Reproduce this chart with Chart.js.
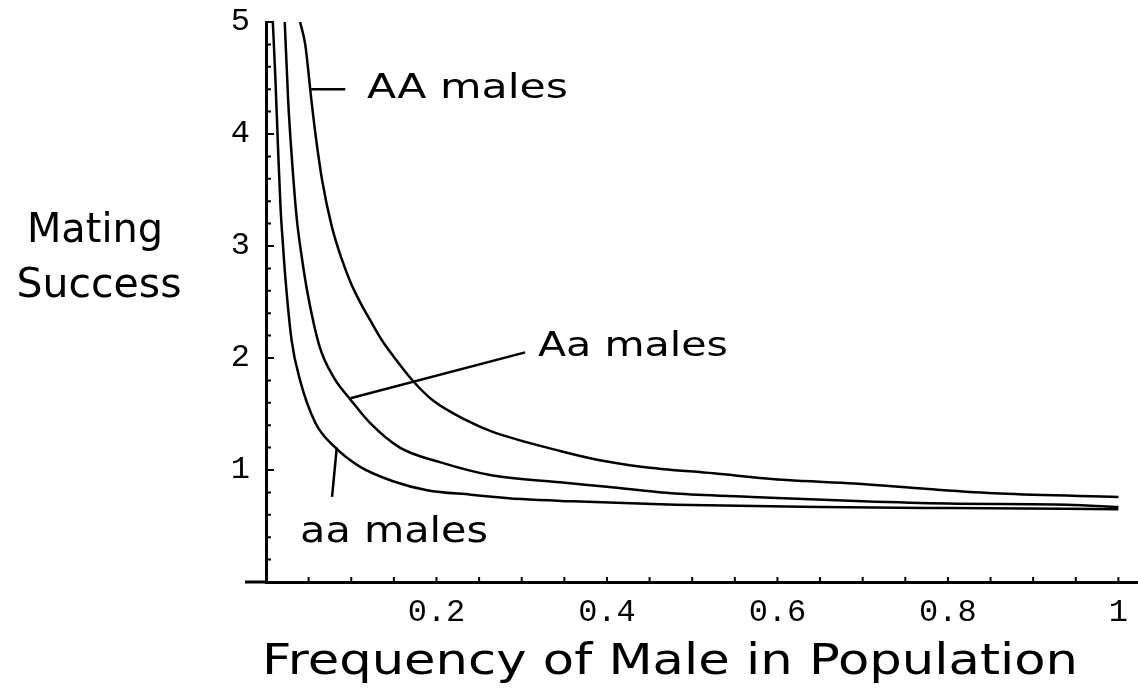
<!DOCTYPE html>
<html lang="en">
<head>
<meta charset="UTF-8" />
<title>Mating Success vs Frequency of Male in Population</title>
<script src="https://cdn.jsdelivr.net/npm/chart.js"></script>
<style>
  html, body { margin: 0; padding: 0; background: #fff; }
  #wrap { width: 1138px; height: 695px; position: relative; }
</style>
</head>
<body>
<div id="wrap"><canvas id="chart"></canvas></div>
<script>
  // curves: [frequency of male, mating success]
  const aaMales = [
    [0.008, 5.0], [0.011, 4.5], [0.014, 3.9], [0.017, 3.35], [0.020, 3.0],
    [0.023, 2.69], [0.030, 2.16], [0.040, 1.80], [0.058, 1.42], [0.080, 1.21],
    [0.110, 1.03], [0.149, 0.90], [0.189, 0.82], [0.240, 0.78], [0.300, 0.74],
    [0.360, 0.72], [0.480, 0.69], [0.650, 0.67], [0.800, 0.66], [1.000, 0.65]
  ];
  const AaMales = [
    [0.022, 5.0], [0.026, 4.3], [0.030, 3.82], [0.036, 3.25], [0.042, 2.90],
    [0.049, 2.57], [0.063, 2.10], [0.080, 1.82], [0.099, 1.63], [0.122, 1.42],
    [0.157, 1.20], [0.204, 1.07], [0.266, 0.95], [0.345, 0.89], [0.400, 0.85],
    [0.480, 0.79], [0.570, 0.76], [0.700, 0.72], [0.800, 0.70], [0.940, 0.69],
    [1.000, 0.67]
  ];
  const AAMales = [
    [0.040, 5.0], [0.046, 4.80], [0.053, 4.32], [0.058, 4.00], [0.066, 3.58],
    [0.077, 3.18], [0.089, 2.88], [0.100, 2.66], [0.111, 2.49], [0.122, 2.34],
    [0.135, 2.17], [0.149, 2.02], [0.173, 1.79], [0.196, 1.62], [0.236, 1.44],
    [0.266, 1.34], [0.345, 1.17], [0.390, 1.09], [0.440, 1.03], [0.525, 0.97],
    [0.611, 0.91], [0.690, 0.88], [0.777, 0.83], [0.861, 0.79], [1.000, 0.76]
  ];

  // leader lines from the labels to the curves
  const AALeader = [[0.053, 4.40], [0.093, 4.40]];
  const AaLeader = [[0.099, 1.64], [0.304, 2.05]];
  const aaLeader = [[0.083, 1.20], [0.0775, 0.76]];

  const xTickLabels = [0.2, 0.4, 0.6, 0.8, 1];
  const yTickLabels = [1, 2, 3, 4, 5];

  const toXY = arr => arr.map(p => ({ x: p[0], y: p[1] }));
  const near = (a, b) => Math.abs(a - b) < 1e-6;

  // curve labels, anchored in data space (left edge, baseline)
  const notes = [
    { text: 'AA males', at: [0.1185, 4.32], size: 33, width: 201 },
    { text: 'Aa males', at: [0.319, 2.02], size: 34, width: 190 },
    { text: 'aa males', at: [0.040, 0.356], size: 36, width: 188 }
  ];

  function stretchText(ctx, text, x, y, width, center) {
    const w = ctx.measureText(text).width;
    ctx.save();
    ctx.translate(x, y);
    ctx.scale(width / w, 1);
    ctx.textAlign = 'left';
    ctx.textBaseline = 'alphabetic';
    ctx.fillText(text, center ? -w / 2 : 0, 0);
    ctx.restore();
  }

  const overlay = {
    id: 'overlay',
    afterDraw(chart) {
      const { ctx, chartArea, scales: { x, y } } = chart;
      ctx.save();
      ctx.strokeStyle = '#000';
      ctx.fillStyle = '#000';

      // x axis runs a little past the origin on the left
      ctx.lineWidth = 3;
      ctx.beginPath();
      ctx.moveTo(chartArea.left - 21, chartArea.bottom);
      ctx.lineTo(chartArea.left, chartArea.bottom);
      ctx.stroke();

      // inward tick marks
      ctx.lineWidth = 2;
      ctx.beginPath();
      y.ticks.forEach(t => {
        if (t.value <= 0) return;
        const py = y.getPixelForValue(t.value);
        const len = near(t.value, Math.round(t.value)) ? 8 : 5;
        ctx.moveTo(chartArea.left, py);
        ctx.lineTo(chartArea.left + len, py);
      });
      x.ticks.forEach(t => {
        if (t.value <= 0) return;
        const px = x.getPixelForValue(t.value);
        ctx.moveTo(px, chartArea.bottom);
        ctx.lineTo(px, chartArea.bottom - 5);
      });
      ctx.stroke();

      // curve labels
      notes.forEach(n => {
        ctx.font = n.size + 'px "DejaVu Sans"';
        stretchText(ctx, n.text, x.getPixelForValue(n.at[0]), y.getPixelForValue(n.at[1]), n.width, false);
      });

      // axis titles
      ctx.font = '40px "DejaVu Sans"';
      stretchText(ctx, 'Mating', 95, 242, 136, true);
      stretchText(ctx, 'Success', 99, 297, 165, true);
      ctx.font = '42px "DejaVu Sans"';
      stretchText(ctx, 'Frequency of Male in Population', 670, 674, 816, true);
      ctx.restore();
    }
  };

  const curve = (label, data) => ({
    label,
    data: toXY(data),
    borderColor: '#000',
    borderWidth: 2.5,
    pointRadius: 0,
    cubicInterpolationMode: 'monotone',
    fill: false
  });
  const leader = (label, data) => ({
    label,
    data: toXY(data),
    borderColor: '#000',
    borderWidth: 2.5,
    pointRadius: 0,
    tension: 0,
    fill: false
  });

  new Chart(document.getElementById('chart'), {
    type: 'line',
    data: {
      datasets: [
        curve('aa males', aaMales),
        curve('Aa males', AaMales),
        curve('AA males', AAMales),
        leader('AA leader', AALeader),
        leader('Aa leader', AaLeader),
        leader('aa leader', aaLeader)
      ]
    },
    options: {
      responsive: true,
      maintainAspectRatio: false,
      animation: false,
      layout: { padding: { left: 0, top: 22, right: 0, bottom: 0 } },
      plugins: {
        legend: { display: false },
        tooltip: { enabled: false }
      },
      scales: {
        x: {
          type: 'linear',
          min: 0,
          max: 1.023,
          afterFit: s => { s.height = 113; s.paddingLeft = 0; s.paddingRight = 0; },
          grid: { display: false, drawTicks: false },
          border: { display: true, color: '#000', width: 3 },
          ticks: {
            stepSize: 0.05,
            includeBounds: false,
            autoSkip: false,
            maxRotation: 0,
            padding: 11,
            color: '#000',
            font: { family: '"Liberation Mono"', size: 32 },
            callback: v => {
              const hit = xTickLabels.find(l => near(l, v));
              return hit === undefined ? '' : (hit === 1 ? '1' : hit.toFixed(1));
            }
          }
        },
        y: {
          type: 'linear',
          min: 0,
          max: 5,
          afterFit: s => { s.width = 266; s.paddingTop = 0; s.paddingBottom = 0; },
          grid: { display: false, drawTicks: false },
          border: { display: true, color: '#000', width: 3 },
          ticks: {
            stepSize: 0.2,
            autoSkip: false,
            padding: 16,
            color: '#000',
            font: { family: '"Liberation Mono"', size: 32 },
            callback: v => {
              const hit = yTickLabels.find(l => near(l, v));
              return hit === undefined ? '' : String(hit);
            }
          }
        }
      }
    },
    plugins: [overlay]
  });
</script>
</body>
</html>
